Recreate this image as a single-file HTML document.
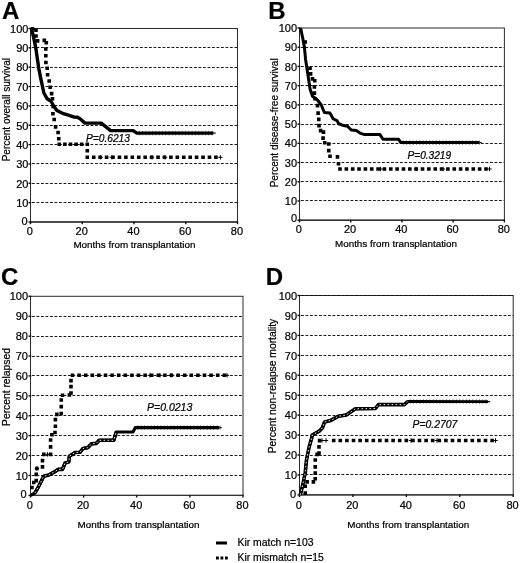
<!DOCTYPE html><html><head><meta charset="utf-8"><title>Figure</title>
<style>html,body{margin:0;padding:0;background:#fff}svg{display:block;filter:grayscale(1)}text{font-family:"Liberation Sans", Arial, sans-serif;fill:#000;stroke:#000;stroke-width:0.22px}</style></head><body>
<svg width="520" height="563" viewBox="0 0 520 563">
<rect width="520" height="563" fill="#fff"/>
<g id="panelA">
<line x1="32.00" y1="202.50" x2="237.50" y2="202.50" stroke="#1a1a1a" stroke-width="1" stroke-dasharray="2.8 1.7"/>
<line x1="32.00" y1="183.50" x2="237.50" y2="183.50" stroke="#1a1a1a" stroke-width="1" stroke-dasharray="2.8 1.7"/>
<line x1="32.00" y1="163.50" x2="237.50" y2="163.50" stroke="#1a1a1a" stroke-width="1" stroke-dasharray="2.8 1.7"/>
<line x1="32.00" y1="144.50" x2="237.50" y2="144.50" stroke="#1a1a1a" stroke-width="1" stroke-dasharray="2.8 1.7"/>
<line x1="32.00" y1="125.50" x2="237.50" y2="125.50" stroke="#1a1a1a" stroke-width="1" stroke-dasharray="2.8 1.7"/>
<line x1="32.00" y1="105.50" x2="237.50" y2="105.50" stroke="#1a1a1a" stroke-width="1" stroke-dasharray="2.8 1.7"/>
<line x1="32.00" y1="86.50" x2="237.50" y2="86.50" stroke="#1a1a1a" stroke-width="1" stroke-dasharray="2.8 1.7"/>
<line x1="32.00" y1="67.50" x2="237.50" y2="67.50" stroke="#1a1a1a" stroke-width="1" stroke-dasharray="2.8 1.7"/>
<line x1="32.00" y1="47.50" x2="237.50" y2="47.50" stroke="#1a1a1a" stroke-width="1" stroke-dasharray="2.8 1.7"/>
<rect x="30.50" y="28.50" width="207.00" height="193.50" fill="none" stroke="#2a2a2a" stroke-width="1"/>
<line x1="30.00" y1="222.00" x2="238.00" y2="222.00" stroke="#333" stroke-width="1.6"/>
<line x1="28.50" y1="222.00" x2="31.30" y2="222.00" stroke="#111" stroke-width="1.4"/>
<text x="27.65" y="225.00" font-size="11" text-anchor="end">0</text>
<line x1="28.50" y1="202.65" x2="31.30" y2="202.65" stroke="#111" stroke-width="1.4"/>
<text x="28.45" y="206.90" font-size="11" text-anchor="end">10</text>
<line x1="28.50" y1="183.30" x2="31.30" y2="183.30" stroke="#111" stroke-width="1.4"/>
<text x="28.45" y="187.55" font-size="11" text-anchor="end">20</text>
<line x1="28.50" y1="163.95" x2="31.30" y2="163.95" stroke="#111" stroke-width="1.4"/>
<text x="28.45" y="168.20" font-size="11" text-anchor="end">30</text>
<line x1="28.50" y1="144.60" x2="31.30" y2="144.60" stroke="#111" stroke-width="1.4"/>
<text x="28.45" y="148.85" font-size="11" text-anchor="end">40</text>
<line x1="28.50" y1="125.25" x2="31.30" y2="125.25" stroke="#111" stroke-width="1.4"/>
<text x="28.45" y="129.50" font-size="11" text-anchor="end">50</text>
<line x1="28.50" y1="105.90" x2="31.30" y2="105.90" stroke="#111" stroke-width="1.4"/>
<text x="28.45" y="110.15" font-size="11" text-anchor="end">60</text>
<line x1="28.50" y1="86.55" x2="31.30" y2="86.55" stroke="#111" stroke-width="1.4"/>
<text x="28.45" y="90.80" font-size="11" text-anchor="end">70</text>
<line x1="28.50" y1="67.20" x2="31.30" y2="67.20" stroke="#111" stroke-width="1.4"/>
<text x="28.45" y="71.45" font-size="11" text-anchor="end">80</text>
<line x1="28.50" y1="47.85" x2="31.30" y2="47.85" stroke="#111" stroke-width="1.4"/>
<text x="28.45" y="52.10" font-size="11" text-anchor="end">90</text>
<line x1="28.50" y1="28.50" x2="31.30" y2="28.50" stroke="#111" stroke-width="1.4"/>
<text x="28.45" y="32.75" font-size="11" text-anchor="end">100</text>
<line x1="30.50" y1="221.50" x2="30.50" y2="224.20" stroke="#111" stroke-width="1.4"/>
<text x="29.90" y="235.40" font-size="11" text-anchor="middle">0</text>
<line x1="82.25" y1="221.50" x2="82.25" y2="224.20" stroke="#111" stroke-width="1.4"/>
<text x="81.65" y="235.40" font-size="11" text-anchor="middle">20</text>
<line x1="134.00" y1="221.50" x2="134.00" y2="224.20" stroke="#111" stroke-width="1.4"/>
<text x="133.40" y="235.40" font-size="11" text-anchor="middle">40</text>
<line x1="185.75" y1="221.50" x2="185.75" y2="224.20" stroke="#111" stroke-width="1.4"/>
<text x="185.15" y="235.40" font-size="11" text-anchor="middle">60</text>
<line x1="237.50" y1="221.50" x2="237.50" y2="224.20" stroke="#111" stroke-width="1.4"/>
<text x="236.90" y="235.40" font-size="11" text-anchor="middle">80</text>
<text x="134.40" y="248.20" font-size="9.85" text-anchor="middle">Months from transplantation</text>
<text transform="translate(9.70 109.65) rotate(-90)" font-size="10" text-anchor="middle">Percent overall survival</text>
<text x="2.00" y="19.20" font-size="24" font-weight="bold" fill="#000">A</text>
<text x="86.00" y="141.50" font-size="10.2" font-style="italic">P=0.6213</text>
<path d="M30.70 27.00h3.60v3.60h-3.60zM34.20 28.40h3.60v3.60h-3.60zM34.20 34.20h3.60v3.60h-3.60zM35.80 39.10h3.60v3.60h-3.60zM42.50 38.60h3.60v3.60h-3.60zM44.50 41.00h3.60v3.60h-3.60zM44.00 47.20h3.60v3.60h-3.60zM44.00 54.00h3.60v3.60h-3.60zM44.10 60.70h3.60v3.60h-3.60zM45.40 66.50h3.60v3.60h-3.60zM45.80 73.00h3.60v3.60h-3.60zM47.40 79.20h3.60v3.60h-3.60zM48.30 85.50h3.60v3.60h-3.60zM49.80 91.80h3.60v3.60h-3.60zM50.70 97.00h3.60v3.60h-3.60zM51.30 104.70h3.60v3.60h-3.60zM51.10 111.95h3.60v3.60h-3.60zM52.40 117.70h3.60v3.60h-3.60zM53.80 125.10h3.60v3.60h-3.60zM56.30 130.70h3.60v3.60h-3.60zM56.95 136.95h3.60v3.60h-3.60zM57.50 142.40h3.60v3.60h-3.60zM63.10 142.40h3.60v3.60h-3.60zM68.70 142.40h3.60v3.60h-3.60zM74.30 142.40h3.60v3.60h-3.60zM79.90 142.40h3.60v3.60h-3.60zM85.50 142.40h3.60v3.60h-3.60zM85.50 148.90h3.60v3.60h-3.60zM85.50 155.50h3.60v3.60h-3.60zM91.93 155.50h3.60v3.60h-3.60zM98.36 155.50h3.60v3.60h-3.60zM104.79 155.50h3.60v3.60h-3.60zM111.22 155.50h3.60v3.60h-3.60zM117.65 155.50h3.60v3.60h-3.60zM124.08 155.50h3.60v3.60h-3.60zM130.51 155.50h3.60v3.60h-3.60zM136.94 155.50h3.60v3.60h-3.60zM143.37 155.50h3.60v3.60h-3.60zM149.80 155.50h3.60v3.60h-3.60zM156.23 155.50h3.60v3.60h-3.60zM162.66 155.50h3.60v3.60h-3.60zM169.09 155.50h3.60v3.60h-3.60zM175.52 155.50h3.60v3.60h-3.60zM181.95 155.50h3.60v3.60h-3.60zM188.38 155.50h3.60v3.60h-3.60zM194.81 155.50h3.60v3.60h-3.60zM201.24 155.50h3.60v3.60h-3.60zM207.67 155.50h3.60v3.60h-3.60zM214.10 155.50h3.60v3.60h-3.60z" fill="#000"/>
<polyline points="31.40,28.20 33.50,37.00 35.70,47.30 38.60,67.30 41.00,79.60 42.40,86.15 43.90,93.00 47.20,98.80 51.00,101.25 54.00,106.50 56.80,110.40 62.60,113.30 68.40,115.20 74.20,117.10 77.50,117.20 80.00,118.75 85.00,123.10 101.25,123.10 110.60,130.60 133.10,130.60 136.90,133.10 213.50,133.10" fill="none" stroke="#000" stroke-width="3.4" stroke-linejoin="round"/>
<line x1="138.90" y1="133.10" x2="214.50" y2="133.10" stroke="#000" stroke-width="4.6" stroke-dasharray="0.9 2.4" stroke-opacity="0.5"/>
<line x1="213.50" y1="133.10" x2="215.70" y2="133.10" stroke="#000" stroke-width="1.2"/>
<path d="M98.40 157.30h4.4M100.60 155.10v4.4M109.70 157.30h4.4M111.90 155.10v4.4M149.80 157.30h4.4M152.00 155.10v4.4M162.80 157.30h4.4M165.00 155.10v4.4M218.20 157.30h4.4M220.40 155.10v4.4" fill="none" stroke="#000" stroke-width="1"/>
</g>
<g id="panelB">
<line x1="301.00" y1="200.50" x2="504.40" y2="200.50" stroke="#1a1a1a" stroke-width="1" stroke-dasharray="2.8 1.7"/>
<line x1="301.00" y1="181.50" x2="504.40" y2="181.50" stroke="#1a1a1a" stroke-width="1" stroke-dasharray="2.8 1.7"/>
<line x1="301.00" y1="162.50" x2="504.40" y2="162.50" stroke="#1a1a1a" stroke-width="1" stroke-dasharray="2.8 1.7"/>
<line x1="301.00" y1="143.50" x2="504.40" y2="143.50" stroke="#1a1a1a" stroke-width="1" stroke-dasharray="2.8 1.7"/>
<line x1="301.00" y1="124.50" x2="504.40" y2="124.50" stroke="#1a1a1a" stroke-width="1" stroke-dasharray="2.8 1.7"/>
<line x1="301.00" y1="104.50" x2="504.40" y2="104.50" stroke="#1a1a1a" stroke-width="1" stroke-dasharray="2.8 1.7"/>
<line x1="301.00" y1="85.50" x2="504.40" y2="85.50" stroke="#1a1a1a" stroke-width="1" stroke-dasharray="2.8 1.7"/>
<line x1="301.00" y1="66.50" x2="504.40" y2="66.50" stroke="#1a1a1a" stroke-width="1" stroke-dasharray="2.8 1.7"/>
<line x1="301.00" y1="47.50" x2="504.40" y2="47.50" stroke="#1a1a1a" stroke-width="1" stroke-dasharray="2.8 1.7"/>
<rect x="299.50" y="28.00" width="204.90" height="192.20" fill="none" stroke="#2a2a2a" stroke-width="1"/>
<line x1="299.00" y1="220.20" x2="504.90" y2="220.20" stroke="#333" stroke-width="1.4"/>
<line x1="297.50" y1="220.20" x2="300.30" y2="220.20" stroke="#111" stroke-width="1.4"/>
<text x="297.00" y="222.05" font-size="11" text-anchor="end">0</text>
<line x1="297.50" y1="200.98" x2="300.30" y2="200.98" stroke="#111" stroke-width="1.4"/>
<text x="297.10" y="205.13" font-size="11" text-anchor="end">10</text>
<line x1="297.50" y1="181.76" x2="300.30" y2="181.76" stroke="#111" stroke-width="1.4"/>
<text x="297.10" y="185.91" font-size="11" text-anchor="end">20</text>
<line x1="297.50" y1="162.54" x2="300.30" y2="162.54" stroke="#111" stroke-width="1.4"/>
<text x="297.10" y="166.69" font-size="11" text-anchor="end">30</text>
<line x1="297.50" y1="143.32" x2="300.30" y2="143.32" stroke="#111" stroke-width="1.4"/>
<text x="297.10" y="147.47" font-size="11" text-anchor="end">40</text>
<line x1="297.50" y1="124.10" x2="300.30" y2="124.10" stroke="#111" stroke-width="1.4"/>
<text x="297.10" y="128.25" font-size="11" text-anchor="end">50</text>
<line x1="297.50" y1="104.88" x2="300.30" y2="104.88" stroke="#111" stroke-width="1.4"/>
<text x="297.10" y="109.03" font-size="11" text-anchor="end">60</text>
<line x1="297.50" y1="85.66" x2="300.30" y2="85.66" stroke="#111" stroke-width="1.4"/>
<text x="297.10" y="89.81" font-size="11" text-anchor="end">70</text>
<line x1="297.50" y1="66.44" x2="300.30" y2="66.44" stroke="#111" stroke-width="1.4"/>
<text x="297.10" y="70.59" font-size="11" text-anchor="end">80</text>
<line x1="297.50" y1="47.22" x2="300.30" y2="47.22" stroke="#111" stroke-width="1.4"/>
<text x="297.10" y="51.37" font-size="11" text-anchor="end">90</text>
<line x1="297.50" y1="28.00" x2="300.30" y2="28.00" stroke="#111" stroke-width="1.4"/>
<text x="297.10" y="32.15" font-size="11" text-anchor="end">100</text>
<line x1="299.50" y1="219.70" x2="299.50" y2="222.40" stroke="#111" stroke-width="1.4"/>
<text x="298.90" y="232.90" font-size="11" text-anchor="middle">0</text>
<line x1="350.73" y1="219.70" x2="350.73" y2="222.40" stroke="#111" stroke-width="1.4"/>
<text x="350.12" y="232.90" font-size="11" text-anchor="middle">20</text>
<line x1="401.95" y1="219.70" x2="401.95" y2="222.40" stroke="#111" stroke-width="1.4"/>
<text x="401.35" y="232.90" font-size="11" text-anchor="middle">40</text>
<line x1="453.17" y1="219.70" x2="453.17" y2="222.40" stroke="#111" stroke-width="1.4"/>
<text x="452.57" y="232.90" font-size="11" text-anchor="middle">60</text>
<line x1="504.40" y1="219.70" x2="504.40" y2="222.40" stroke="#111" stroke-width="1.4"/>
<text x="503.80" y="232.90" font-size="11" text-anchor="middle">80</text>
<text x="396.00" y="247.40" font-size="9.85" text-anchor="middle">Months from transplantation</text>
<text transform="translate(277.80 122.85) rotate(-90)" font-size="10" text-anchor="middle">Percent disease-free survival</text>
<text x="268.30" y="19.20" font-size="24" font-weight="bold" fill="#000">B</text>
<text x="407.50" y="158.50" font-size="10.1" font-style="italic">P=0.3219</text>
<path d="M303.45 40.20h3.60v3.60h-3.60zM308.20 66.45h3.60v3.60h-3.60zM308.80 72.10h3.60v3.60h-3.60zM310.70 77.10h3.60v3.60h-3.60zM312.95 78.95h3.60v3.60h-3.60zM312.60 85.10h3.60v3.60h-3.60zM312.60 91.30h3.60v3.60h-3.60zM313.20 96.95h3.60v3.60h-3.60zM315.70 103.80h3.60v3.60h-3.60zM316.30 111.30h3.60v3.60h-3.60zM316.95 117.60h3.60v3.60h-3.60zM317.20 123.80h3.60v3.60h-3.60zM318.80 128.80h3.60v3.60h-3.60zM321.70 130.30h3.60v3.60h-3.60zM321.30 136.30h3.60v3.60h-3.60zM322.95 140.95h3.60v3.60h-3.60zM326.95 142.20h3.60v3.60h-3.60zM326.95 148.80h3.60v3.60h-3.60zM328.20 154.45h3.60v3.60h-3.60zM335.70 155.10h3.60v3.60h-3.60zM336.70 161.95h3.60v3.60h-3.60zM338.20 167.20h3.60v3.60h-3.60zM344.55 167.20h3.60v3.60h-3.60zM350.90 167.20h3.60v3.60h-3.60zM357.24 167.20h3.60v3.60h-3.60zM363.59 167.20h3.60v3.60h-3.60zM369.94 167.20h3.60v3.60h-3.60zM376.29 167.20h3.60v3.60h-3.60zM382.63 167.20h3.60v3.60h-3.60zM388.98 167.20h3.60v3.60h-3.60zM395.33 167.20h3.60v3.60h-3.60zM401.68 167.20h3.60v3.60h-3.60zM408.03 167.20h3.60v3.60h-3.60zM414.37 167.20h3.60v3.60h-3.60zM420.72 167.20h3.60v3.60h-3.60zM427.07 167.20h3.60v3.60h-3.60zM433.42 167.20h3.60v3.60h-3.60zM439.77 167.20h3.60v3.60h-3.60zM446.11 167.20h3.60v3.60h-3.60zM452.46 167.20h3.60v3.60h-3.60zM458.81 167.20h3.60v3.60h-3.60zM465.16 167.20h3.60v3.60h-3.60zM471.50 167.20h3.60v3.60h-3.60zM477.85 167.20h3.60v3.60h-3.60zM484.20 167.20h3.60v3.60h-3.60z" fill="#000"/>
<polyline points="300.60,28.00 302.50,37.00 304.40,47.00 305.60,59.50 307.50,72.00 309.40,84.50 310.00,88.75 312.50,96.25 317.50,100.00 321.25,105.00 324.40,112.50 330.00,113.10 333.10,118.75 336.90,120.60 338.75,123.75 343.75,125.60 347.50,126.25 351.25,130.00 356.25,130.60 360.00,133.10 364.60,134.60 380.00,134.60 383.00,139.20 398.50,139.20 400.80,142.60 479.50,142.60" fill="none" stroke="#000" stroke-width="3.0" stroke-linejoin="round"/>
<line x1="402.80" y1="142.60" x2="480.50" y2="142.60" stroke="#000" stroke-width="4.6" stroke-dasharray="0.9 2.4" stroke-opacity="0.5"/>
<line x1="479.50" y1="142.60" x2="481.70" y2="142.60" stroke="#000" stroke-width="1.2"/>
<path d="M378.30 169.00h4.4M380.50 166.80v4.4M487.30 169.00h4.4M489.50 166.80v4.4M413.80 169.00h4.4M416.00 166.80v4.4M440.80 169.00h4.4M443.00 166.80v4.4" fill="none" stroke="#000" stroke-width="1"/>
</g>
<g id="panelC">
<line x1="32.00" y1="475.50" x2="243.00" y2="475.50" stroke="#1a1a1a" stroke-width="1" stroke-dasharray="2.8 1.7"/>
<line x1="32.00" y1="455.50" x2="243.00" y2="455.50" stroke="#1a1a1a" stroke-width="1" stroke-dasharray="2.8 1.7"/>
<line x1="32.00" y1="435.50" x2="243.00" y2="435.50" stroke="#1a1a1a" stroke-width="1" stroke-dasharray="2.8 1.7"/>
<line x1="32.00" y1="415.50" x2="243.00" y2="415.50" stroke="#1a1a1a" stroke-width="1" stroke-dasharray="2.8 1.7"/>
<line x1="32.00" y1="395.50" x2="243.00" y2="395.50" stroke="#1a1a1a" stroke-width="1" stroke-dasharray="2.8 1.7"/>
<line x1="32.00" y1="375.50" x2="243.00" y2="375.50" stroke="#1a1a1a" stroke-width="1" stroke-dasharray="2.8 1.7"/>
<line x1="32.00" y1="356.50" x2="243.00" y2="356.50" stroke="#1a1a1a" stroke-width="1" stroke-dasharray="2.8 1.7"/>
<line x1="32.00" y1="336.50" x2="243.00" y2="336.50" stroke="#1a1a1a" stroke-width="1" stroke-dasharray="2.8 1.7"/>
<line x1="32.00" y1="316.50" x2="243.00" y2="316.50" stroke="#1a1a1a" stroke-width="1" stroke-dasharray="2.8 1.7"/>
<rect x="30.50" y="296.30" width="212.50" height="199.10" fill="none" stroke="#2a2a2a" stroke-width="1"/>
<line x1="30.00" y1="495.40" x2="243.50" y2="495.40" stroke="#333" stroke-width="1.1"/>
<line x1="28.50" y1="495.40" x2="31.30" y2="495.40" stroke="#111" stroke-width="1.4"/>
<text x="26.70" y="497.80" font-size="11" text-anchor="end">0</text>
<line x1="28.50" y1="475.49" x2="31.30" y2="475.49" stroke="#111" stroke-width="1.4"/>
<text x="28.00" y="479.64" font-size="11" text-anchor="end">10</text>
<line x1="28.50" y1="455.58" x2="31.30" y2="455.58" stroke="#111" stroke-width="1.4"/>
<text x="28.00" y="459.73" font-size="11" text-anchor="end">20</text>
<line x1="28.50" y1="435.67" x2="31.30" y2="435.67" stroke="#111" stroke-width="1.4"/>
<text x="28.00" y="439.82" font-size="11" text-anchor="end">30</text>
<line x1="28.50" y1="415.76" x2="31.30" y2="415.76" stroke="#111" stroke-width="1.4"/>
<text x="28.00" y="419.91" font-size="11" text-anchor="end">40</text>
<line x1="28.50" y1="395.85" x2="31.30" y2="395.85" stroke="#111" stroke-width="1.4"/>
<text x="28.00" y="400.00" font-size="11" text-anchor="end">50</text>
<line x1="28.50" y1="375.94" x2="31.30" y2="375.94" stroke="#111" stroke-width="1.4"/>
<text x="28.00" y="380.09" font-size="11" text-anchor="end">60</text>
<line x1="28.50" y1="356.03" x2="31.30" y2="356.03" stroke="#111" stroke-width="1.4"/>
<text x="28.00" y="360.18" font-size="11" text-anchor="end">70</text>
<line x1="28.50" y1="336.12" x2="31.30" y2="336.12" stroke="#111" stroke-width="1.4"/>
<text x="28.00" y="340.27" font-size="11" text-anchor="end">80</text>
<line x1="28.50" y1="316.21" x2="31.30" y2="316.21" stroke="#111" stroke-width="1.4"/>
<text x="28.00" y="320.36" font-size="11" text-anchor="end">90</text>
<line x1="28.50" y1="296.30" x2="31.30" y2="296.30" stroke="#111" stroke-width="1.4"/>
<text x="28.00" y="300.45" font-size="11" text-anchor="end">100</text>
<line x1="30.50" y1="494.90" x2="30.50" y2="497.60" stroke="#111" stroke-width="1.4"/>
<text x="29.90" y="508.90" font-size="11" text-anchor="middle">0</text>
<line x1="83.62" y1="494.90" x2="83.62" y2="497.60" stroke="#111" stroke-width="1.4"/>
<text x="83.03" y="508.90" font-size="11" text-anchor="middle">20</text>
<line x1="136.75" y1="494.90" x2="136.75" y2="497.60" stroke="#111" stroke-width="1.4"/>
<text x="136.15" y="508.90" font-size="11" text-anchor="middle">40</text>
<line x1="189.88" y1="494.90" x2="189.88" y2="497.60" stroke="#111" stroke-width="1.4"/>
<text x="189.28" y="508.90" font-size="11" text-anchor="middle">60</text>
<line x1="243.00" y1="494.90" x2="243.00" y2="497.60" stroke="#111" stroke-width="1.4"/>
<text x="242.40" y="508.90" font-size="11" text-anchor="middle">80</text>
<text x="138.50" y="527.50" font-size="9.85" text-anchor="middle">Months from transplantation</text>
<text transform="translate(9.80 387.00) rotate(-90)" font-size="10.3" text-anchor="middle">Percent relapsed</text>
<text x="0.90" y="285.40" font-size="24" font-weight="bold" fill="#000">C</text>
<text x="147.00" y="410.80" font-size="10.5" font-style="italic">P=0.0213</text>
<path d="M30.10 485.70h3.60v3.60h-3.60zM31.95 480.70h3.60v3.60h-3.60zM34.45 478.80h3.60v3.60h-3.60zM34.45 472.60h3.60v3.60h-3.60zM35.10 466.70h3.60v3.60h-3.60zM40.70 465.10h3.60v3.60h-3.60zM40.70 458.80h3.60v3.60h-3.60zM41.95 452.60h3.60v3.60h-3.60zM48.80 452.60h3.60v3.60h-3.60zM48.80 445.10h3.60v3.60h-3.60zM48.80 438.20h3.60v3.60h-3.60zM50.10 432.90h3.60v3.60h-3.60zM53.20 430.70h3.60v3.60h-3.60zM53.60 424.45h3.60v3.60h-3.60zM53.60 417.80h3.60v3.60h-3.60zM55.10 412.60h3.60v3.60h-3.60zM59.45 411.70h3.60v3.60h-3.60zM59.45 404.80h3.60v3.60h-3.60zM59.45 398.20h3.60v3.60h-3.60zM60.70 393.45h3.60v3.60h-3.60zM67.60 393.20h3.60v3.60h-3.60zM69.20 391.20h3.60v3.60h-3.60zM69.20 384.80h3.60v3.60h-3.60zM69.20 378.80h3.60v3.60h-3.60zM70.70 373.50h3.60v3.60h-3.60zM77.30 373.50h3.60v3.60h-3.60zM83.90 373.50h3.60v3.60h-3.60zM90.50 373.50h3.60v3.60h-3.60zM97.10 373.50h3.60v3.60h-3.60zM103.70 373.50h3.60v3.60h-3.60zM110.30 373.50h3.60v3.60h-3.60zM116.90 373.50h3.60v3.60h-3.60zM123.50 373.50h3.60v3.60h-3.60zM130.10 373.50h3.60v3.60h-3.60zM136.70 373.50h3.60v3.60h-3.60zM143.30 373.50h3.60v3.60h-3.60zM149.90 373.50h3.60v3.60h-3.60zM156.50 373.50h3.60v3.60h-3.60zM163.10 373.50h3.60v3.60h-3.60zM169.70 373.50h3.60v3.60h-3.60zM176.30 373.50h3.60v3.60h-3.60zM182.90 373.50h3.60v3.60h-3.60zM189.50 373.50h3.60v3.60h-3.60zM196.10 373.50h3.60v3.60h-3.60zM202.70 373.50h3.60v3.60h-3.60zM209.30 373.50h3.60v3.60h-3.60zM215.90 373.50h3.60v3.60h-3.60zM222.50 373.50h3.60v3.60h-3.60z" fill="#000"/>
<polyline points="30.60,495.40 35.00,493.00 39.40,485.00 43.75,476.25 48.75,475.00 54.40,471.90 58.10,469.40 62.50,469.40 65.00,463.10 68.75,461.90 69.40,456.25 75.00,452.50 80.00,452.30 83.00,448.50 87.70,447.70 91.50,443.80 96.20,443.40 99.20,440.30 113.80,440.30 116.20,432.00 133.00,432.00 135.40,427.50 219.50,427.60" fill="none" stroke="#000" stroke-width="3.2" stroke-linejoin="round"/>
<polyline points="35.00,493.00 39.40,485.00 43.75,476.25 48.75,475.00 54.40,471.90 58.10,469.40 62.50,469.40 65.00,463.10 68.75,461.90 69.40,456.25 75.00,452.50 80.00,452.30 83.00,448.50 87.70,447.70 91.50,443.80 96.20,443.40 99.20,440.30 113.80,440.30 116.20,432.00" fill="none" stroke="#000" stroke-width="3.6" stroke-linejoin="round"/>
<polyline points="35.00,493.00 39.40,485.00 43.75,476.25 48.75,475.00 54.40,471.90 58.10,469.40 62.50,469.40 65.00,463.10 68.75,461.90 69.40,456.25 75.00,452.50 80.00,452.30 83.00,448.50 87.70,447.70 91.50,443.80 96.20,443.40 99.20,440.30 113.80,440.30 116.20,432.00" fill="none" stroke="#fff" stroke-width="1" stroke-dasharray="1.6 2.4" stroke-opacity="0.9"/>
<line x1="137.40" y1="427.50" x2="220.50" y2="427.60" stroke="#000" stroke-width="4.6" stroke-dasharray="0.9 2.4" stroke-opacity="0.5"/>
<line x1="219.50" y1="427.60" x2="221.70" y2="427.60" stroke="#000" stroke-width="1.2"/>
<path d="M34.70 468.50h4.4M36.90 466.30v4.4M45.30 454.40h4.4M47.50 452.20v4.4M224.80 375.30h4.4M227.00 373.10v4.4M147.80 375.30h4.4M150.00 373.10v4.4M157.80 375.30h4.4M160.00 373.10v4.4M168.80 375.30h4.4M171.00 373.10v4.4" fill="none" stroke="#000" stroke-width="1"/>
</g>
<g id="panelD">
<line x1="301.00" y1="474.50" x2="513.20" y2="474.50" stroke="#1a1a1a" stroke-width="1" stroke-dasharray="2.8 1.7"/>
<line x1="301.00" y1="455.50" x2="513.20" y2="455.50" stroke="#1a1a1a" stroke-width="1" stroke-dasharray="2.8 1.7"/>
<line x1="301.00" y1="435.50" x2="513.20" y2="435.50" stroke="#1a1a1a" stroke-width="1" stroke-dasharray="2.8 1.7"/>
<line x1="301.00" y1="415.50" x2="513.20" y2="415.50" stroke="#1a1a1a" stroke-width="1" stroke-dasharray="2.8 1.7"/>
<line x1="301.00" y1="395.50" x2="513.20" y2="395.50" stroke="#1a1a1a" stroke-width="1" stroke-dasharray="2.8 1.7"/>
<line x1="301.00" y1="375.50" x2="513.20" y2="375.50" stroke="#1a1a1a" stroke-width="1" stroke-dasharray="2.8 1.7"/>
<line x1="301.00" y1="355.50" x2="513.20" y2="355.50" stroke="#1a1a1a" stroke-width="1" stroke-dasharray="2.8 1.7"/>
<line x1="301.00" y1="335.50" x2="513.20" y2="335.50" stroke="#1a1a1a" stroke-width="1" stroke-dasharray="2.8 1.7"/>
<line x1="301.00" y1="315.50" x2="513.20" y2="315.50" stroke="#1a1a1a" stroke-width="1" stroke-dasharray="2.8 1.7"/>
<rect x="299.50" y="295.50" width="213.70" height="199.40" fill="none" stroke="#2a2a2a" stroke-width="1"/>
<line x1="301.00" y1="295.50" x2="513.20" y2="295.50" stroke="#111" stroke-width="1.2" stroke-dasharray="2.8 1.7"/>
<line x1="299.00" y1="494.90" x2="513.70" y2="494.90" stroke="#333" stroke-width="1.3"/>
<line x1="297.50" y1="494.90" x2="300.30" y2="494.90" stroke="#111" stroke-width="1.4"/>
<text x="296.20" y="498.30" font-size="11" text-anchor="end">0</text>
<line x1="297.50" y1="474.96" x2="300.30" y2="474.96" stroke="#111" stroke-width="1.4"/>
<text x="297.10" y="479.31" font-size="11" text-anchor="end">10</text>
<line x1="297.50" y1="455.02" x2="300.30" y2="455.02" stroke="#111" stroke-width="1.4"/>
<text x="297.10" y="459.37" font-size="11" text-anchor="end">20</text>
<line x1="297.50" y1="435.08" x2="300.30" y2="435.08" stroke="#111" stroke-width="1.4"/>
<text x="297.10" y="439.43" font-size="11" text-anchor="end">30</text>
<line x1="297.50" y1="415.14" x2="300.30" y2="415.14" stroke="#111" stroke-width="1.4"/>
<text x="297.10" y="419.49" font-size="11" text-anchor="end">40</text>
<line x1="297.50" y1="395.20" x2="300.30" y2="395.20" stroke="#111" stroke-width="1.4"/>
<text x="297.10" y="399.55" font-size="11" text-anchor="end">50</text>
<line x1="297.50" y1="375.26" x2="300.30" y2="375.26" stroke="#111" stroke-width="1.4"/>
<text x="297.10" y="379.61" font-size="11" text-anchor="end">60</text>
<line x1="297.50" y1="355.32" x2="300.30" y2="355.32" stroke="#111" stroke-width="1.4"/>
<text x="297.10" y="359.67" font-size="11" text-anchor="end">70</text>
<line x1="297.50" y1="335.38" x2="300.30" y2="335.38" stroke="#111" stroke-width="1.4"/>
<text x="297.10" y="339.73" font-size="11" text-anchor="end">80</text>
<line x1="297.50" y1="315.44" x2="300.30" y2="315.44" stroke="#111" stroke-width="1.4"/>
<text x="297.10" y="319.79" font-size="11" text-anchor="end">90</text>
<line x1="297.50" y1="295.50" x2="300.30" y2="295.50" stroke="#111" stroke-width="1.4"/>
<text x="297.10" y="299.85" font-size="11" text-anchor="end">100</text>
<line x1="299.50" y1="494.40" x2="299.50" y2="497.10" stroke="#111" stroke-width="1.4"/>
<text x="298.90" y="508.70" font-size="11" text-anchor="middle">0</text>
<line x1="352.93" y1="494.40" x2="352.93" y2="497.10" stroke="#111" stroke-width="1.4"/>
<text x="352.32" y="508.70" font-size="11" text-anchor="middle">20</text>
<line x1="406.35" y1="494.40" x2="406.35" y2="497.10" stroke="#111" stroke-width="1.4"/>
<text x="405.75" y="508.70" font-size="11" text-anchor="middle">40</text>
<line x1="459.78" y1="494.40" x2="459.78" y2="497.10" stroke="#111" stroke-width="1.4"/>
<text x="459.18" y="508.70" font-size="11" text-anchor="middle">60</text>
<line x1="513.20" y1="494.40" x2="513.20" y2="497.10" stroke="#111" stroke-width="1.4"/>
<text x="512.60" y="508.70" font-size="11" text-anchor="middle">80</text>
<text x="408.20" y="527.50" font-size="9.85" text-anchor="middle">Months from transplantation</text>
<text transform="translate(275.60 386.00) rotate(-90)" font-size="10.3" text-anchor="middle">Percent non-relapse mortality</text>
<text x="265.70" y="285.40" font-size="24" font-weight="bold" fill="#000">D</text>
<text x="412.60" y="427.70" font-size="10.4" font-style="italic">P=0.2707</text>
<path d="M303.45 491.30h3.60v3.60h-3.60zM303.45 484.45h3.60v3.60h-3.60zM305.30 480.10h3.60v3.60h-3.60zM311.60 480.10h3.60v3.60h-3.60zM313.45 476.95h3.60v3.60h-3.60zM313.45 471.30h3.60v3.60h-3.60zM313.45 465.10h3.60v3.60h-3.60zM313.45 458.20h3.60v3.60h-3.60zM315.30 452.60h3.60v3.60h-3.60zM317.20 451.30h3.60v3.60h-3.60zM317.20 445.10h3.60v3.60h-3.60zM317.80 438.80h3.60v3.60h-3.60zM331.90 438.70h3.60v3.60h-3.60zM338.50 438.70h3.60v3.60h-3.60zM345.10 438.70h3.60v3.60h-3.60zM351.70 438.70h3.60v3.60h-3.60zM358.30 438.70h3.60v3.60h-3.60zM364.90 438.70h3.60v3.60h-3.60zM371.50 438.70h3.60v3.60h-3.60zM378.10 438.70h3.60v3.60h-3.60zM384.70 438.70h3.60v3.60h-3.60zM391.30 438.70h3.60v3.60h-3.60zM397.90 438.70h3.60v3.60h-3.60zM404.50 438.70h3.60v3.60h-3.60zM411.10 438.70h3.60v3.60h-3.60zM417.70 438.70h3.60v3.60h-3.60zM424.30 438.70h3.60v3.60h-3.60zM430.90 438.70h3.60v3.60h-3.60zM437.50 438.70h3.60v3.60h-3.60zM444.10 438.70h3.60v3.60h-3.60zM450.70 438.70h3.60v3.60h-3.60zM457.30 438.70h3.60v3.60h-3.60zM463.90 438.70h3.60v3.60h-3.60zM470.50 438.70h3.60v3.60h-3.60zM477.10 438.70h3.60v3.60h-3.60zM483.70 438.70h3.60v3.60h-3.60zM490.30 438.70h3.60v3.60h-3.60z" fill="#000"/>
<polyline points="300.25,494.80 302.75,485.00 305.25,472.50 306.50,460.00 309.00,447.50 311.50,438.75 312.30,435.00 319.20,431.20 322.30,428.00 324.60,422.00 330.80,420.40 338.50,416.20 346.20,415.00 355.40,408.80 375.40,408.50 378.50,404.60 404.60,404.60 407.70,401.50 488.00,401.60" fill="none" stroke="#000" stroke-width="2.8" stroke-linejoin="round"/>
<polyline points="300.25,494.80 302.75,485.00 305.25,472.50 306.50,460.00 309.00,447.50 311.50,438.75 312.30,435.00 319.20,431.20 322.30,428.00 324.60,422.00 330.80,420.40 338.50,416.20 346.20,415.00 355.40,408.80 375.40,408.50 378.50,404.60 404.60,404.60 407.70,401.50" fill="none" stroke="#000" stroke-width="3.6" stroke-linejoin="round"/>
<polyline points="300.25,494.80 302.75,485.00 305.25,472.50 306.50,460.00 309.00,447.50 311.50,438.75 312.30,435.00 319.20,431.20 322.30,428.00 324.60,422.00 330.80,420.40 338.50,416.20 346.20,415.00 355.40,408.80 375.40,408.50 378.50,404.60 404.60,404.60 407.70,401.50" fill="none" stroke="#fff" stroke-width="1" stroke-dasharray="1.6 2.4" stroke-opacity="0.9"/>
<line x1="409.70" y1="401.50" x2="489.00" y2="401.60" stroke="#000" stroke-width="4.6" stroke-dasharray="0.9 2.4" stroke-opacity="0.5"/>
<line x1="488.00" y1="401.60" x2="490.20" y2="401.60" stroke="#000" stroke-width="1.2"/>
<path d="M319.80 440.50h4.4M322.00 438.30v4.4M323.80 440.50h4.4M326.00 438.30v4.4M493.30 440.50h4.4M495.50 438.30v4.4M408.80 440.50h4.4M411.00 438.30v4.4M434.80 440.50h4.4M437.00 438.30v4.4" fill="none" stroke="#000" stroke-width="1"/>
</g>
<line x1="216" y1="543" x2="227" y2="543" stroke="#000" stroke-width="3"/>
<path d="M216 556.6h2.8v2.8h-2.8zM220.5 556.6h2.8v2.8h-2.8zM225 556.6h2.8v2.8h-2.8z" fill="#000"/>
<text x="237.5" y="546.4" font-size="10.4">Kir match n=103</text>
<text x="237.5" y="561.3" font-size="10.4">Kir mismatch n=15</text>
</svg></body></html>
